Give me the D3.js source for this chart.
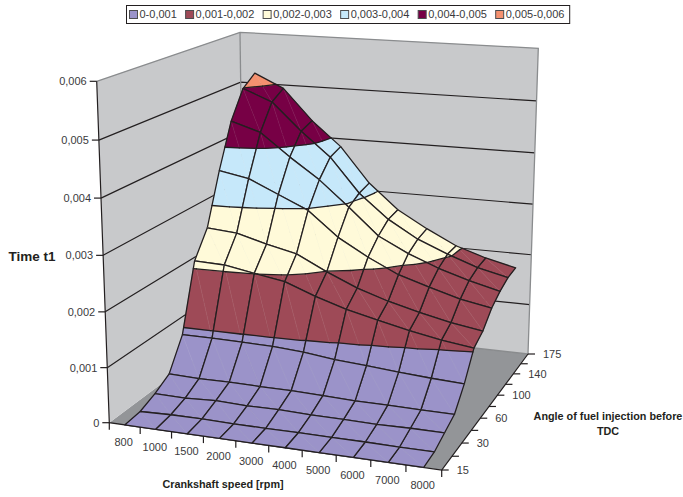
<!DOCTYPE html>
<html><head><meta charset="utf-8">
<script src="https://cdn.jsdelivr.net/npm/d3@7/dist/d3.min.js"></script>
<style>html,body{margin:0;padding:0;background:#fff}svg{display:block}text{font-family:"Liberation Sans",Arial,sans-serif;fill:#3a3a3c}</style>
</head><body><svg id="c" width="683" height="497"></svg>
<script>
const speedLabels=["800","1000","1500","2000","3000","4000","5000","6000","7000","8000"];
const angleLabels=["15","","30","","60","","100","","140","","175"];
const timeTicks=[0,0.001,0.002,0.003,0.004,0.005,0.006];
const legendLabels=["0-0,001","0,001-0,002","0,002-0,003","0,003-0,004","0,004-0,005","0,005-0,006"];
const bandColors=["#9b93c9","#9e4a57","#fffad9","#c6e8fa","#770045","#f5916f"];
// Time t1, one array per depth row (front to back), one value per speed
const row00=[0,0,0,0,0,0,0,0,0,0];
const row01=[0.000028,0.000046,0.000049,0.000037,0.000038,0.00004,0.000038,0.000039,0.000034,0.000032];
const row02=[0.00015,0.00014,0.00017,0.00015,0.00016,0.00014,0.00014,0.00013,0.00014,0.00014];
const row03=[0.00032,0.0003,0.00031,0.0003,0.0003,0.00028,0.00026,0.00026,0.00025,0.00025];
const row04=[0.00088,0.00088,0.00087,0.00086,0.00082,0.00075,0.00071,0.00066,0.00062,0.00059];
const row05=[0.00213,0.00211,0.00201,0.00191,0.00169,0.00151,0.00137,0.00124,0.00113,0.00105];
const row06=[0.00262,0.00257,0.00241,0.00228,0.00199,0.00174,0.00155,0.0014,0.00127,0.00118];
const row07=[0.0036,0.00349,0.00323,0.00297,0.0025,0.00217,0.00189,0.00171,0.00154,0.00143];
const row08=[0.00445,0.00427,0.00383,0.00343,0.00294,0.00243,0.00214,0.00191,0.00173,0.00158];
const row09=[0.00499,0.00476,0.00422,0.00375,0.00308,0.00261,0.00227,0.00203,0.00182,0.00168];
const row10=[0.0052,0.00493,0.00432,0.00384,0.00315,0.00266,0.00233,0.00204,0.00185,0.00171];
const rows=[row00,row01,row02,row03,row04,row05,row06,row07,row08,row09,row10];

// camera: where the corners of the chart box fall on the page
const floorCorners=[[109.3,422.7],[441.7,470],[528,354],[244,322]];
const roofCorners=[[96.7,81.3],[449,103],[538.3,48.3],[240,32.3]];
const perspectiveK=1.04;
function homography(p){
  const [p0,p1,p2,p3]=p;
  const dx1=p1[0]-p2[0],dx2=p3[0]-p2[0],sx=p0[0]-p1[0]+p2[0]-p3[0];
  const dy1=p1[1]-p2[1],dy2=p3[1]-p2[1],sy=p0[1]-p1[1]+p2[1]-p3[1];
  const den=dx1*dy2-dx2*dy1;
  const g=(sx*dy2-dx2*sy)/den,h=(dx1*sy-sx*dy1)/den;
  const a=p1[0]-p0[0]+g*p1[0],b=p3[0]-p0[0]+h*p3[0],c=p0[0];
  const d=p1[1]-p0[1]+g*p1[1],e=p3[1]-p0[1]+h*p3[1],f=p0[1];
  return (u,v)=>{const w=g*u+h*v+1;return [(a*u+b*v+c)/w,(d*u+e*v+f)/w];};
}
const hFloor=homography(floorCorners),hRoof=homography(roofCorners);
const zScale=d3.scaleLinear().domain([0,0.006]).range([0,1]);
const uBand=d3.scaleBand().domain(speedLabels.map((d,i)=>i)).range([0,1]);
const vPoint=d3.scalePoint().domain(angleLabels.map((d,i)=>i)).range([0,1]);
const uOf=i=>uBand(i)+uBand.bandwidth()/2;
function project(u,v,z){
  const s=zScale(z),t=s/(perspectiveK*(1-s)+s);
  const a=hFloor(u,v),b=hRoof(u,v);
  return [a[0]+(b[0]-a[0])*t,a[1]+(b[1]-a[1])*t];
}
const svg=d3.select("#c");
const ink="#231f20",edge="#8a8c8e",wall="#c8c9cb",floorCol="#939598";
const lw=1.3;
const line=d3.line();
const poly=pts=>line(pts)+"Z";

// walls and floor
const zMax=0.006;
const walls=svg.append("g");
walls.append("path").attr("d",poly([project(0,0,0),project(1,0,0),project(1,1,0),project(0,1,0)])).attr("fill",floorCol);
walls.append("path").attr("d",poly([project(0,0,0),project(0,0,zMax),project(0,1,zMax),project(0,1,0)])).attr("fill",wall);
walls.append("path").attr("d",poly([project(0,1,0),project(0,1,zMax),project(1,1,zMax),project(1,1,0)])).attr("fill",wall);
walls.selectAll(".grid").data(timeTicks.slice(1,-1)).join("path").attr("class","grid")
  .attr("d",z=>line([project(0,0,z),project(0,1,z),project(1,1,z)])).attr("fill","none").attr("stroke",ink).attr("stroke-width",1.2);
walls.append("path").attr("d",line([project(0,0,zMax),project(0,1,zMax),project(1,1,zMax),project(1,1,0),project(0,1,0)]))
  .attr("fill","none").attr("stroke",edge).attr("stroke-width",1.3);
walls.append("path").attr("d",line([project(0,1,0),project(0,1,zMax)])).attr("fill","none").attr("stroke",edge).attr("stroke-width",1.3);
walls.append("path").attr("d",line([project(0,0,zMax),project(0,0,0),project(1,0,0),project(1,1,0)])).attr("fill","none").attr("stroke",ink).attr("stroke-width",1.2);

// surface
const levels=timeTicks.slice(1,-1);
function clip(pts,level,keepAbove){
  const out=[];
  pts.forEach((p,k)=>{
    const q=pts[(k+1)%pts.length];
    const pin=keepAbove?p[2]>=level:p[2]<=level, qin=keepAbove?q[2]>=level:q[2]<=level;
    if(pin)out.push(p);
    if(pin!==qin){const t=(level-p[2])/(q[2]-p[2]);out.push([p[0]+(q[0]-p[0])*t,p[1]+(q[1]-p[1])*t,level]);}
  });
  return out;
}
function contour(tri,level){
  const seg=[];
  tri.forEach((p,k)=>{
    const q=tri[(k+1)%3];
    if((p[2]<level)!==(q[2]<level)){const t=(level-p[2])/(q[2]-p[2]);seg.push([p[0]+(q[0]-p[0])*t,p[1]+(q[1]-p[1])*t,level]);}
  });
  return seg.length===2?seg:null;
}
const cells=[];
for(let j=rows.length-2;j>=0;j--){
  const idx=d3.range(speedLabels.length-1).sort((a,b)=>Math.abs(b-5)-Math.abs(a-5));
  idx.forEach(i=>cells.push({i,j}));
}
const pt=(i,j)=>[uOf(i),vPoint(j),rows[j][i]];
const P=p=>project(p[0],p[1],p[2]);
const surf=svg.append("g").attr("stroke-linejoin","round");
cells.forEach(({i,j})=>{
  const a=pt(i,j),b=pt(i+1,j),c=pt(i+1,j+1),d=pt(i,j+1);
  const tris=[[a,b,d],[b,c,d]];
  const g=surf.append("g");
  tris.forEach(tri=>{
    bandColors.forEach((col,k)=>{
      let pts=clip(tri,timeTicks[k],true);
      if(pts.length>=3)pts=clip(pts,timeTicks[k+1],false);
      if(pts.length>=3)g.append("path").attr("d",poly(pts.map(P))).attr("fill",col).attr("stroke",col).attr("stroke-width",0.5);
    });
  });
  g.append("path").attr("d",line([b,d].map(P))).attr("fill","none").attr("stroke","#fff").attr("stroke-opacity",0.1).attr("stroke-width",0.6);
  tris.forEach(tri=>levels.forEach(l=>{
    const s=contour(tri,l);
    if(s)g.append("path").attr("d",line(s.map(P))).attr("fill","none").attr("stroke",ink).attr("stroke-width",lw).attr("stroke-linecap","round");
  }));
  g.append("path").attr("d",poly([a,b,c,d].map(P))).attr("fill","none").attr("stroke",ink).attr("stroke-width",lw);
});

// axes
const fmt=d3.formatLocale({decimal:",",thousands:"",grouping:[3],currency:["",""]}).format(".3f");
const axes=svg.append("g");
const tick=(p,dx,dy)=>axes.append("path").attr("d",line([p,[p[0]+dx,p[1]+dy]])).attr("stroke",ink).attr("stroke-width",1.2).attr("fill","none");
const label=(x,y,txt,anchor)=>axes.append("text").attr("x",x).attr("y",y).attr("text-anchor",anchor).attr("dominant-baseline","central").attr("font-size",11).text(txt);
timeTicks.forEach(z=>{
  const p=project(0,0,z);tick(p,-7,0);label(p[0]-10,p[1],z===0?"0":fmt(z),"end");
});
d3.range(speedLabels.length+1).forEach(i=>tick(project(i/speedLabels.length,0,0),0,7));
speedLabels.forEach((s,i)=>{const p=project(uOf(i),0,0);label(p[0]-1,p[1]+17.5,s,"middle");});
angleLabels.forEach((s,j)=>{
  const p=project(1,vPoint(j),0);tick(p,7,0);
  if(s)label(p[0]+15,p[1],s,"start");
});

// titles
const title=(x,y,txt,size)=>svg.append("text").attr("x",x).attr("y",y).attr("text-anchor","middle").attr("font-weight","bold").attr("font-size",size).style("fill","#231f20").text(txt);
title(223,488,"Crankshaft speed [rpm]",10.8);
title(32,261,"Time t1",13.5);
title(608,419.5,"Angle of fuel injection before",10.8);
title(608,434.5,"TDC",10.8);

// legend
const leg=svg.append("g");
const box=leg.append("rect").attr("x",126.5).attr("y",5.5).attr("height",18).attr("fill","#fff").attr("stroke",ink).attr("stroke-width",1);
let lx=129;
legendLabels.forEach((t,k)=>{
  leg.append("rect").attr("x",lx+.5).attr("y",10.5).attr("width",8).attr("height",8).attr("fill",bandColors[k]).attr("stroke","#4d4d4f").attr("stroke-width",1);
  const tx=leg.append("text").attr("x",lx+10.5).attr("y",18).attr("font-size",11).text(t);
  lx+=10.5+tx.node().getComputedTextLength()+8.3;
});
box.attr("width",lx-126.5-3);
</script></body></html>
